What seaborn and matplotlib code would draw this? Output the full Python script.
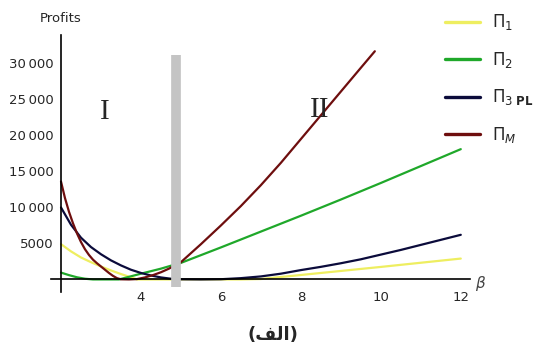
import numpy as np
import pandas as pd
import matplotlib
matplotlib.use("Agg")
import matplotlib.pyplot as plt
from matplotlib.ticker import FuncFormatter, MultipleLocator
import seaborn as sns

# profit curves (beta, profit)
beta_1 = [2.0, 2.25, 2.5, 2.75, 3.0, 3.25, 3.5, 3.75, 3.9, 4.5, 5.5, 6.5, 7.0, 8.0, 9.0, 10.0, 11.0, 12.0]
profit_1 = [4900, 3900, 3050, 2400, 1800, 1250, 750, 300, 0, 0, 0, 0, 60, 620, 1180, 1740, 2320, 2900]

beta_2 = [2.0, 2.2, 2.4, 2.6, 2.8, 3.0, 3.45, 4.0, 4.5, 4.9, 5.0, 6.0, 7.0, 8.0, 9.0, 10.0, 11.0, 12.0]
profit_2 = [950, 600, 300, 100, 0, 0, 0, 800, 1500, 2150, 2300, 4450, 6650, 8850, 11100, 13400, 15750, 18100]

beta_3 = [2.0, 2.25, 2.5, 2.75, 3.0, 3.25, 3.5, 3.75, 4.0, 4.25, 4.5, 4.75, 5.0, 5.5,
          6.0, 6.5, 7.0, 7.5, 8.0, 8.5, 9.0, 9.5, 10.0, 10.5, 11.0, 11.5, 12.0]
profit_3 = [10000, 7600, 5800, 4500, 3500, 2650, 1950, 1350, 900, 550, 280, 100, 20, 0,
            30, 180, 420, 800, 1300, 1750, 2250, 2800, 3450, 4100, 4800, 5500, 6200]

beta_m = [2.0, 2.1, 2.2, 2.3, 2.4, 2.5, 2.6, 2.7, 2.8, 2.9, 3.0, 3.1, 3.2, 3.3, 3.4, 3.5, 3.7, 3.9,
          4.1, 4.3, 4.5, 4.7, 4.9, 5.0, 5.5, 6.0, 6.5, 7.0, 7.5, 8.0, 8.5, 9.0, 9.5, 9.85]
profit_m = [13600, 11300, 9400, 7800, 6400, 5200, 4200, 3400, 2750, 2250, 1800, 1350, 900, 500, 180, 20, 0, 50,
            280, 600, 1000, 1500, 2100, 2400, 4900, 7500, 10200, 13100, 16200, 19500, 22800, 26100, 29400, 31700]

series_labels = [r"$\Pi_1$", r"$\Pi_2$", r"$\Pi_{3\ \mathbf{PL}}$", r"$\Pi_M$"]
series_colors = ["#eeee60", "#1fa82a", "#0b0b3b", "#6e0e0e"]

x_ticks = [4, 6, 8, 10, 12]
y_ticks = [5000, 10000, 15000, 20000, 25000, 30000]

# regime boundary and region labels
boundary_beta = 4.88
boundary_range = (-1000, 31200)
region_labels = ["I", "II"]
region_pos = [(3.1, 23300), (8.48, 23500)]

caption = "(\ufed2\ufedf\ufe8d)"  # (الف) in presentation forms, visual order

frames = []
for lab, b, p in zip(series_labels,
                     [beta_1, beta_2, beta_3, beta_m],
                     [profit_1, profit_2, profit_3, profit_m]):
    frames.append(pd.DataFrame({"beta": b, "profit": p, "series": lab}))
df = pd.concat(frames, ignore_index=True)

sns.set_style("white")
plt.rcParams["font.family"] = ["DejaVu Sans"]
plt.rcParams["mathtext.fontset"] = "dejavusans"

fig = plt.figure(figsize=(5.46, 3.53), dpi=100)
ax = fig.add_axes([0.0934, 0.1737, 0.767, 0.728])

sns.lineplot(data=df, x="beta", y="profit", hue="series",
             hue_order=series_labels,
             palette=dict(zip(series_labels, series_colors)),
             estimator=None, linewidth=1.6, ax=ax)

ax.vlines(boundary_beta, *boundary_range, colors="#c4c4c4", linewidth=7, zorder=5)

for lab, (bx, by) in zip(region_labels, region_pos):
    ax.text(bx, by, lab, family="Liberation Serif", fontsize=21,
            ha="center", va="center")

ax.set_xlim(1.75, 12.225)
ax.set_ylim(-1700, 34000)

for s in ["top", "right"]:
    ax.spines[s].set_visible(False)
ax.spines["left"].set_position(("data", 2))
ax.spines["bottom"].set_position(("data", 0))
for s in ["left", "bottom"]:
    ax.spines[s].set_linewidth(1.2)
    ax.spines[s].set_color("black")

ax.set_xticks(x_ticks)
ax.set_yticks(y_ticks)
ax.xaxis.set_minor_locator(MultipleLocator(0.5))
ax.yaxis.set_minor_locator(MultipleLocator(1000))
ax.yaxis.set_major_formatter(FuncFormatter(
    lambda v, pos: f"{int(v) // 1000}\u2009{int(v) % 1000:03d}" if v >= 10000 else f"{int(v)}"))
ax.tick_params(which="both", direction="in", color="#333333", labelsize=9.5, width=0.8)
ax.tick_params(which="major", length=4)
ax.tick_params(which="minor", length=2)
ax.tick_params(axis="x", pad=8)
ax.tick_params(axis="y", pad=5)
ax.set_xlabel("")
ax.set_ylabel("")

ax.annotate(r"$\beta$", xy=(1, 0), xycoords=("axes fraction", "data"),
            xytext=(8, -3), textcoords="offset points",
            fontsize=11, color="#444444", ha="center", va="center",
            annotation_clip=False)
fig.text(61 / 546, 1 - 19 / 353, "Profits", fontsize=9.5, ha="center", va="center")

handles, labels = ax.get_legend_handles_labels()
ax.get_legend().remove()
leg = fig.legend(handles, labels, loc="upper left",
                 bbox_to_anchor=(0.815, 0.965), frameon=False,
                 borderpad=0, borderaxespad=0, handlelength=2.1,
                 handletextpad=0.7, labelspacing=1.05, fontsize=12)
for line in leg.get_lines():
    line.set_linewidth(2.4)

fig.text(0.5, 1 - 335 / 353, caption, fontsize=13, fontweight="bold",
         ha="center", va="center")

fig.savefig("out.png", dpi=100)
